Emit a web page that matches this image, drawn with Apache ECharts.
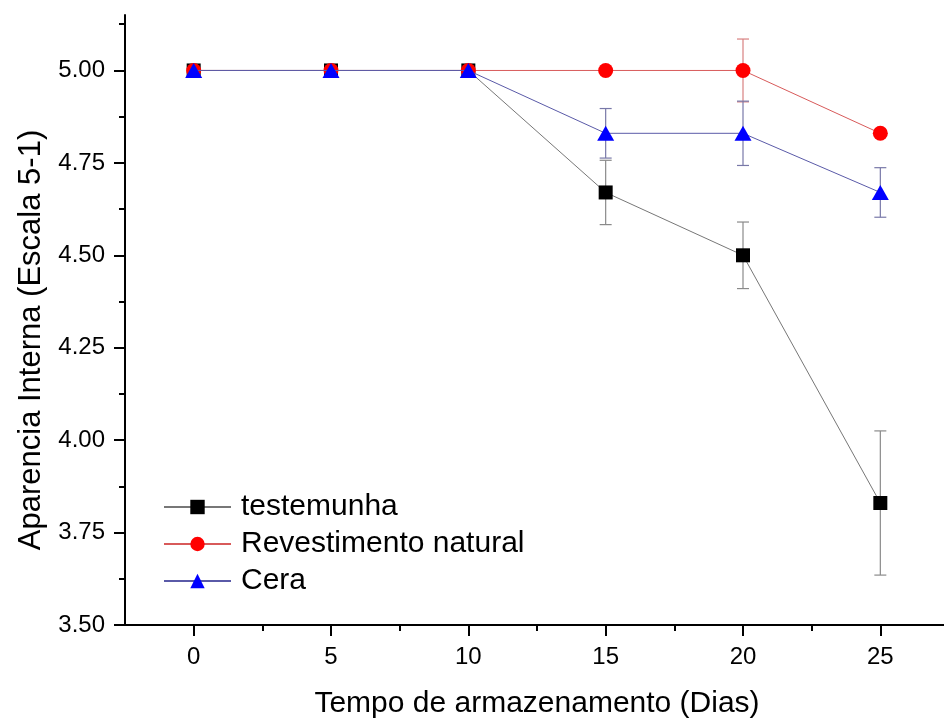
<!DOCTYPE html>
<html>
<head>
<meta charset="utf-8">
<script src="https://cdn.jsdelivr.net/npm/echarts@6/dist/echarts.min.js"></script>
<style>
  html, body { margin: 0; padding: 0; background: #fff; }
  #chart { width: 944px; height: 718px; }
</style>
</head>
<body>
<div id="chart"></div>
<script>
// dias de armazenamento
var dias = [0, 5, 10, 15, 20, 25];
var testemunha = [5.00, 5.00, 5.00, 4.67, 4.50, 3.83];
var testemunhaErr = [0, 0, 0, 0.087, 0.09, 0.195];
var revestimento = [5.00, 5.00, 5.00, 5.00, 5.00, 4.83];
var revestimentoErr = [0, 0, 0, 0, 0.085, 0];
var cera = [5.00, 5.00, 5.00, 4.83, 4.83, 4.67];
var ceraErr = [0, 0, 0, 0.067, 0.087, 0.067];

var xLabels = [0, 5, 10, 15, 20, 25];
var xMinor = [2.5, 7.5, 12.5, 17.5, 22.5];
var yLabels = [3.5, 3.75, 4.0, 4.25, 4.5, 4.75, 5.0];
var yMinor = [3.625, 3.875, 4.125, 4.375, 4.625, 4.875, 5.125];

var font = 'Liberation Sans, Arial, sans-serif';

function pares(vals) {
    return dias.map(function (d, i) { return [d, vals[i]]; });
}
function barras(vals, errs) {
    var out = [];
    dias.forEach(function (d, i) {
        if (errs[i] > 0) out.push([d, vals[i] - errs[i], vals[i] + errs[i]]);
    });
    return out;
}
function errorSeries(vals, errs, color) {
    return {
        type: 'custom',
        xAxisIndex: 0,
        yAxisIndex: 0,
        z: 1,
        silent: true,
        data: barras(vals, errs),
        renderItem: function (params, api) {
            var lo = api.coord([api.value(0), api.value(1)]);
            var hi = api.coord([api.value(0), api.value(2)]);
            var w = 6;
            var st = { stroke: color, lineWidth: 1.2 };
            return {
                type: 'group',
                children: [
                    { type: 'line', shape: { x1: lo[0], y1: lo[1], x2: hi[0], y2: hi[1] }, style: st },
                    { type: 'line', shape: { x1: lo[0] - w, y1: lo[1], x2: lo[0] + w, y2: lo[1] }, style: st },
                    { type: 'line', shape: { x1: hi[0] - w, y1: hi[1], x2: hi[0] + w, y2: hi[1] }, style: st }
                ]
            };
        }
    };
}

var chart = echarts.init(document.getElementById('chart'));

var axisLineStyle = { color: '#000', width: 2 };

var option = {
    backgroundColor: '#fff',
    animation: false,
    grid: { left: 125, right: -5, top: 15, bottom: 93, outerBoundsMode: 'none' },
    legend: {
        orient: 'vertical',
        left: 158,
        top: 487,
        itemWidth: 67,
        itemHeight: 18,
        itemGap: 7,
        textStyle: { fontFamily: font, fontSize: 30, color: '#000', padding: [0, 0, 0, 5] },
        data: ['testemunha', 'Revestimento natural', 'Cera']
    },
    xAxis: [
        {
            type: 'value',
            min: -2.5,
            max: 27.5,
            name: 'Tempo de armazenamento (Dias)',
            nameLocation: 'middle',
            nameGap: 64,
            nameTextStyle: { fontFamily: font, fontSize: 30, color: '#000' },
            axisLine: { show: true, onZero: false, lineStyle: axisLineStyle },
            axisTick: { show: true, length: 11, customValues: xLabels, lineStyle: axisLineStyle },
            axisLabel: { customValues: xLabels, margin: 20, fontFamily: font, fontSize: 24, color: '#000' },
            splitLine: { show: false }
        },
        {
            type: 'value',
            min: -2.5,
            max: 27.5,
            position: 'bottom',
            axisLine: { show: false, onZero: false },
            axisTick: { show: true, length: 6, customValues: xMinor, lineStyle: axisLineStyle },
            axisLabel: { show: false },
            splitLine: { show: false }
        }
    ],
    yAxis: [
        {
            type: 'value',
            min: 3.5,
            max: 5.15,
            name: 'Aparencia Interna (Escala 5-1)',
            nameLocation: 'middle',
            nameRotate: 90,
            nameGap: 76,
            nameTextStyle: { fontFamily: font, fontSize: 31, color: '#000', padding: [0, 40, 0, 0] },
            axisLine: { show: true, onZero: false, lineStyle: axisLineStyle },
            axisTick: { show: true, length: 11, customValues: yLabels, lineStyle: axisLineStyle },
            axisLabel: {
                customValues: yLabels,
                margin: 20,
                fontFamily: font,
                fontSize: 24,
                color: '#000',
                formatter: function (v) { return v.toFixed(2); }
            },
            splitLine: { show: false }
        },
        {
            type: 'value',
            min: 3.5,
            max: 5.15,
            position: 'left',
            axisLine: { show: false, onZero: false },
            axisTick: { show: true, length: 6, customValues: yMinor, lineStyle: axisLineStyle },
            axisLabel: { show: false },
            splitLine: { show: false }
        }
    ],
    series: [
        errorSeries(testemunha, testemunhaErr, '#8a8a8a'),
        errorSeries(revestimento, revestimentoErr, '#d88080'),
        errorSeries(cera, ceraErr, '#7878a8'),
        {
            name: 'testemunha',
            type: 'line',
            data: pares(testemunha),
            symbol: 'rect',
            symbolSize: 14,
            z: 3,
            lineStyle: { color: '#777777', width: 1 },
            itemStyle: { color: '#000000' }
        },
        {
            name: 'Revestimento natural',
            type: 'line',
            data: pares(revestimento),
            symbol: 'circle',
            symbolSize: 15,
            z: 4,
            lineStyle: { color: '#d85a5a', width: 1 },
            itemStyle: { color: '#ff0000' }
        },
        {
            name: 'Cera',
            type: 'line',
            data: pares(cera),
            symbol: 'triangle',
            symbolSize: [17, 15],
            z: 5,
            lineStyle: { color: '#5a5aa8', width: 1 },
            itemStyle: { color: '#0000ff' }
        }
    ]
};

chart.setOption(option);
</script>
</body>
</html>
